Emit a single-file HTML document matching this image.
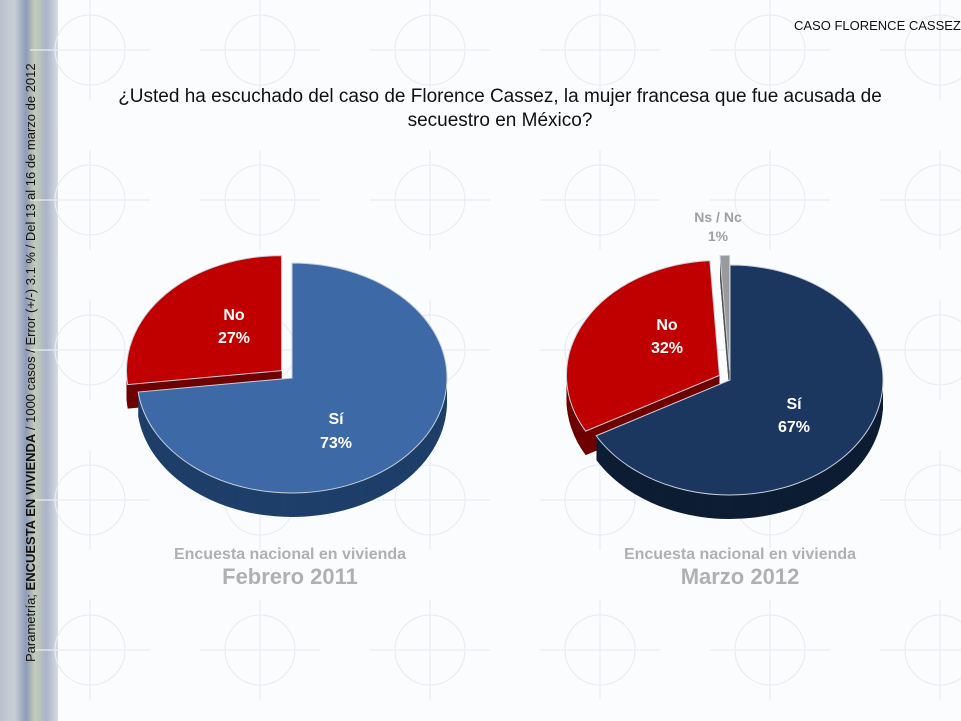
<!DOCTYPE html>
<html><head><meta charset="utf-8">
<style>
body{margin:0;width:961px;height:721px;overflow:hidden;background:#fbfcfd;font-family:"Liberation Sans",sans-serif;position:relative}
.strip{position:absolute;left:0;top:0;width:58px;height:721px;background:linear-gradient(90deg,#b9c2cf 0%,#c8cfd6 25%,#8e9bb8 45%,#c4cbb8 60%,#aab3c8 80%,#d7dbe2 100%)}
.t{position:absolute;white-space:nowrap}
</style></head><body>
<div class="strip"></div>
<svg width="961" height="721" style="position:absolute;left:0;top:0" id="s">
<g fill="none" stroke="#e8edf3" stroke-width="1.2" id="bg"></g>
<g id="pies"></g>
</svg>
<div class="t" style="left:23px;top:662px;transform:rotate(-90deg);transform-origin:0 0;font-size:13px;color:#111">Parametría; <b>ENCUESTA EN VIVIENDA</b> / 1000 casos / Error (+/-) 3.1 % / Del 13 al 16 de marzo de 2012</div>
<div class="t" style="left:794px;top:18px;font-size:13px;color:#111">CASO FLORENCE CASSEZ</div>
<div class="t" style="left:0;width:1000px;top:85px;text-align:center;font-size:19px;line-height:24px;color:#111">¿Usted ha escuchado del caso de Florence Cassez, la mujer francesa que fue acusada de<br>secuestro en México?</div>
<div class="t" style="left:120px;width:340px;top:546px;text-align:center;color:#b0b0b0;font-weight:bold"><div style="font-size:16px">Encuesta nacional en vivienda</div><div style="font-size:22px">Febrero 2011</div></div>
<div class="t" style="left:570px;width:340px;top:546px;text-align:center;color:#b0b0b0;font-weight:bold"><div style="font-size:16px">Encuesta nacional en vivienda</div><div style="font-size:22px">Marzo 2012</div></div>
<script>
var ns="http://www.w3.org/2000/svg",P=document.getElementById('pies'),B=document.getElementById('bg');
function el(t,a,p){var e=document.createElementNS(ns,t);for(var k in a)e.setAttribute(k,a[k]);(p||P).appendChild(e);return e}
for(var i=0;i<5;i++)for(var j=0;j<6;j++){var x=90+j*170,y=50+i*150;el('circle',{cx:x,cy:y,r:35},B);el('line',{x1:x-60,y1:y,x2:x+60,y2:y},B);el('line',{x1:x,y1:y-50,x2:x,y2:y+50},B);}
function pt(cx,cy,rx,ry,a){a=a*Math.PI/180;return [cx+rx*Math.sin(a),cy-ry*Math.cos(a)]}
function slice(cx,cy,rx,ry,a0,a1,fill,stroke){var p0=pt(cx,cy,rx,ry,a0),p1=pt(cx,cy,rx,ry,a1);
 return el('path',{d:'M'+cx+','+cy+'L'+p0+'A'+rx+','+ry+' 0 '+((a1-a0)>180?1:0)+' 1 '+p1+'Z',fill:fill,stroke:stroke||'none','stroke-width':1})}
function pie(cx,cy,rx,ry,d,sl){
 sl.forEach(function(s){var a=(s[0]+s[1])/2,ox=s[4]*Math.sin(a*Math.PI/180),oy=-s[4]*Math.cos(a*Math.PI/180)*0.8;s.ox=ox;s.oy=oy;});
 for(var k=d;k>0;k--)sl.forEach(function(s){slice(cx+s.ox,cy+s.oy+k,rx,ry,s[0],s[1],s[3])});
 sl.forEach(function(s){slice(cx+s.ox,cy+s.oy,rx,ry,s[0],s[1],s[2],'#c8d0dc')});
}
pie(292,378,155,115,24,[[0,263,'#3d6aa6','#1f3f6a',0],[263,360,'#c00000','#6e0000',14]]);
pie(730,380,153,115,24,[[0,241,'#1b365f','#0d1d33',0],[241,356.4,'#c00000','#6e0000',12],[356.4,360,'#9a9a9a','#555',12]]);
function tx(x,y,s,c,fs){var e=el('text',{x:x,y:y,'text-anchor':'middle',fill:c,'font-size':fs||16,'font-weight':'bold','font-family':'Liberation Sans,sans-serif'});e.textContent=s}
tx(234,320,'No','#fff');tx(234,343,'27%','#fff');
tx(336,424,'Sí','#fff');tx(336,448,'73%','#fff');
tx(667,330,'No','#fff');tx(667,353,'32%','#fff');
tx(794,409,'Sí','#fff');tx(794,432,'67%','#fff');
tx(718,222,'Ns / Nc','#a0a0a0',14);tx(718,241,'1%','#a0a0a0',14);
</script>
</body></html>
